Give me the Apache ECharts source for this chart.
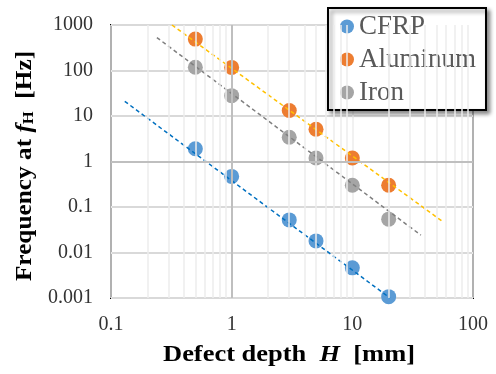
<!DOCTYPE html>
<html><head><meta charset="utf-8">
<script src="https://cdn.jsdelivr.net/npm/echarts@6/dist/echarts.min.js"></script>
<style>html,body{margin:0;padding:0;background:#fff}#c{width:496px;height:374px}</style>
</head><body><div id="c"></div>
<script>
var depth = [0.5, 1, 3, 5, 10, 20];
var cfrp = [1.9, 0.47, 0.052, 0.018, 0.0046, 0.00107];
var aluminum = [490, 117, 13.2, 5.1, 1.19, 0.30];
var iron = [118, 28, 3.4, 1.19, 0.30, 0.054];
var cfrpTrendX = [0.13, 20.5], cfrpTrendY = [21, 0.001];
var aluminumTrendX = [0.32, 56], aluminumTrendY = [1000, 0.048];
var ironTrendX = [0.24, 37], ironTrendY = [530, 0.024];
var minorX = [0.2,0.3,0.4,0.5,0.6,0.7,0.8,0.9,2,3,4,5,6,7,8,9,20,30,40,50,60,70,80,90];
var xTitle = 'Defect depth  {i|H}  [mm]';
var yTitle = 'Frequency at {i|f}{s|H}  [Hz]';

function pairs(xs, ys){ return xs.map(function(x,i){return [x, ys[i]];}); }
var FONT = "'Liberation Serif', 'Times New Roman', serif";
var chart = echarts.init(document.getElementById('c'), null, {renderer:'canvas'});
function lab(v){ return String(+(+v).toPrecision(6)); }
var titleRich = {
  i:{fontFamily:FONT, fontSize:23, fontWeight:'bold', fontStyle:'italic', fill:'#000', color:'#000'},
  s:{fontFamily:FONT, fontSize:15, fontWeight:'bold', fill:'#000', color:'#000', verticalAlign:'bottom', padding:[9,0,0,0]}
};
var option = {
  animation:false,
  backgroundColor:'#fff',
  textStyle:{fontFamily:FONT},
  grid:{left:111,right:23,top:25,bottom:76,show:true,borderColor:'#000',borderWidth:2,backgroundColor:'transparent'},
  legend:{
    data:['CFRP','Aluminum','Iron'], orient:'vertical', left:328, top:8,
    icon:'circle', itemWidth:14, itemHeight:14, itemGap:2,
    padding:[3,10,2,12],
    backgroundColor:'#fff', borderColor:'#000', borderWidth:2,
    shadowColor:'rgba(0,0,0,0.45)', shadowBlur:4, shadowOffsetX:3, shadowOffsetY:3,
    textStyle:{fontFamily:FONT, fontSize:27, color:'#595959', lineHeight:31}
  },
  graphic:[
    {type:'text', x:289, y:355, scaleX:1.15, z:10,
      style:{text:xTitle, fontFamily:FONT, fontSize:23, fontWeight:'bold', fill:'#000',
        align:'center', verticalAlign:'middle', rich:titleRich}},
    {type:'text', x:25, y:166, rotation:Math.PI/2, scaleX:1.1, z:10,
      style:{text:yTitle, fontFamily:FONT, fontSize:23, fontWeight:'bold', fill:'#000',
        align:'center', verticalAlign:'middle', rich:titleRich}}
  ],
  xAxis:{type:'log', logBase:10, min:0.1, max:100,
    axisLine:{show:false}, axisTick:{show:false},
    splitLine:{show:true, lineStyle:{color:'#ececec', width:1.5}},
    axisLabel:{fontFamily:FONT, fontSize:20, color:'#333', margin:17, formatter:lab}
  },
  yAxis:{type:'log', logBase:10, min:0.001, max:1000,
    axisLine:{show:false}, axisTick:{show:false},
    splitLine:{show:true, lineStyle:{color:'#d9d9d9', width:2}},
    axisLabel:{fontFamily:FONT, fontSize:20, color:'#333', margin:18, formatter:lab}
  },
  series:[
    {type:'line', name:'grid', data:[], silent:true, z:1,
      markLine:{silent:true, symbol:'none', label:{show:false}, animation:false,
        data: minorX.map(function(v){return {xAxis:v, lineStyle:{color:'#ececec', width:1.5, type:'solid'}};})
          .concat([{xAxis:1, lineStyle:{color:'#bfbfbf', width:2, type:'solid'}},
                   {yAxis:1, lineStyle:{color:'#bfbfbf', width:2, type:'solid'}}])}},
    {type:'scatter', name:'CFRP', data:pairs(depth, cfrp), symbolSize:15, itemStyle:{color:'#5b9bd5', opacity:1}, z:3},
    {type:'scatter', name:'Aluminum', data:pairs(depth, aluminum), symbolSize:15, itemStyle:{color:'#ed7d31', opacity:1}, z:3},
    {type:'scatter', name:'Iron', data:pairs(depth, iron), symbolSize:15, itemStyle:{color:'#a5a5a5', opacity:1}, z:3},
    {type:'line', name:'cfrpTrend', data:pairs(cfrpTrendX, cfrpTrendY), showSymbol:false, symbol:'none', z:4,
      lineStyle:{color:'#0070c0', width:1.5, type:[4,3]}},
    {type:'line', name:'aluminumTrend', data:pairs(aluminumTrendX, aluminumTrendY), showSymbol:false, symbol:'none', z:4,
      lineStyle:{color:'#ffc000', width:1.5, type:[4,3]}},
    {type:'line', name:'ironTrend', data:pairs(ironTrendX, ironTrendY), showSymbol:false, symbol:'none', z:4,
      lineStyle:{color:'#7f7f7f', width:1.5, type:[4,3]}}
  ]
};
chart.setOption(option);
</script></body></html>
